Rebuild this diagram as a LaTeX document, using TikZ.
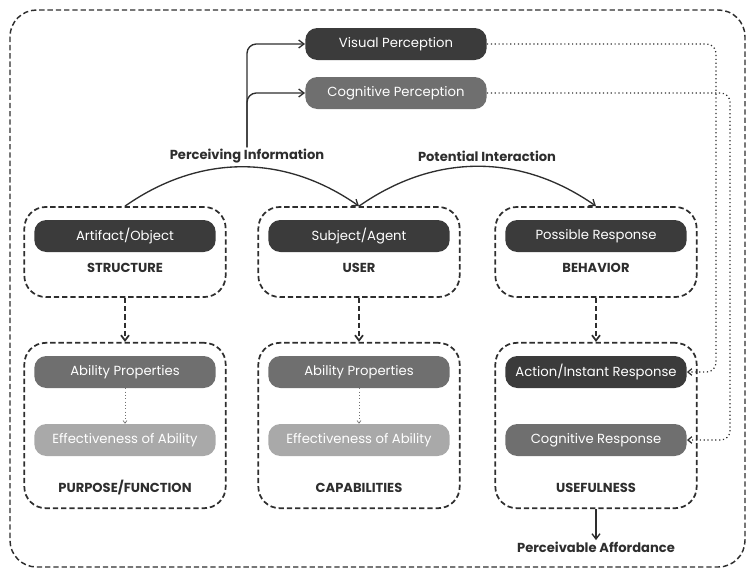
\documentclass[tikz,border=0pt]{standalone}
\usepackage{fontspec}
\setmainfont{Poppins}
\usetikzlibrary{positioning,arrows.meta}

\definecolor{pilldark}{HTML}{3B3B3B}
\definecolor{pillmid}{HTML}{6F6F6F}
\definecolor{pilllight}{HTML}{A9A9A9}
\definecolor{ink}{HTML}{2E2E2E}

\tikzset{
  pill/.style={fill=#1, text=white, rounded corners=9pt, minimum width=136pt,
    minimum height=24pt, inner sep=0pt, font=\fontsize{9.9}{11}\selectfont},
  grp/.style={draw=ink, line width=1.3pt, dash pattern=on 4pt off 2.2pt,
    rounded corners=16pt, minimum width=151pt, inner sep=0pt},
  tag/.style={text=ink, font=\bfseries\fontsize{9.8}{11}\selectfont, inner sep=1pt},
  frame/.style={draw=ink, line width=1.1pt, dash pattern=on 4pt off 2.2pt, rounded corners=20pt},
  flow/.style={draw=ink, line width=1pt, -{Straight Barb[length=4pt,width=6pt]}},
  dashflow/.style={draw=ink, line width=1.3pt, dash pattern=on 4pt off 2.2pt,
    -{Straight Barb[length=4pt,width=6pt]}},
  dotflow/.style={draw=ink, line width=0.9pt, dotted, rounded corners=7pt,
    -{Straight Barb[length=3pt,width=5pt]}},
  thindot/.style={draw=pillmid, line width=0.5pt, dotted, -{Straight Barb[length=2pt,width=3pt]}}
}

\begin{document}
\begin{tikzpicture}[x=0.75pt,y=-0.75pt]
\useasboundingbox (0,0) rectangle (749,571);
\draw[frame] (10,10) rectangle (745,567);

% perception
\node[pill=pilldark] (visual) at (396,44) {Visual Perception};
\node[pill=pillmid] (cogper) at (396,93) {Cognitive Perception};
\node[tag] (percinfo) at (247,156) {Perceiving Information};
\node[tag] (potint) at (487,156) {Potential Interaction};
\draw[flow,rounded corners=7pt] (percinfo.north) |- (visual.west);
\draw[flow,rounded corners=7pt] (percinfo.north) |- (cogper.west);

% top row
\node[grp,minimum height=67.5pt] (structbox) at (125,252) {};
\node[pill=pilldark] (artifact) at (125,236) {Artifact/Object};
\node[tag] (structlbl) at (125,268) {STRUCTURE};

\node[grp,minimum height=67.5pt] (userbox) at (359,252) {};
\node[pill=pilldark] (subject) at (359,236) {Subject/Agent};
\node[tag] (userlbl) at (359,268) {USER};

\node[grp,minimum height=67.5pt] (behavbox) at (596,252) {};
\node[pill=pilldark] (possible) at (596,236) {Possible Response};
\node[tag] (behavlbl) at (596,268) {BEHAVIOR};

\draw[flow] (structbox.north) to[bend left=35] (userbox.north);
\draw[flow] (userbox.north) to[bend left=35] (behavbox.north);

% bottom row
\node[grp,minimum height=124pt] (purpbox) at (125,425.5) {};
\node[pill=pillmid] (abilA) at (125,372) {Ability Properties};
\node[pill=pilllight] (effA) at (125,440) {Effectiveness of Ability};
\node[tag] (purplbl) at (125,488) {PURPOSE/FUNCTION};
\draw[thindot] (abilA) -- (effA);

\node[grp,minimum height=124pt] (capbox) at (359,425.5) {};
\node[pill=pillmid] (abilB) at (359,372) {Ability Properties};
\node[pill=pilllight] (effB) at (359,440) {Effectiveness of Ability};
\node[tag] (caplbl) at (359,488) {CAPABILITIES};
\draw[thindot] (abilB) -- (effB);

\node[grp,minimum height=124pt] (usebox) at (596,425.5) {};
\node[pill=pilldark] (action) at (596,372) {Action/Instant Response};
\node[pill=pillmid] (cogresp) at (596,440) {Cognitive Response};
\node[tag] (uselbl) at (596,488) {USEFULNESS};

\draw[dashflow] (structbox) -- (purpbox);
\draw[dashflow] (userbox) -- (capbox);
\draw[dashflow] (behavbox) -- (usebox);

% affordance
\node[tag] (afford) at (596,547) {Perceivable Affordance};
\draw[flow] (usebox.south) -- (afford.north);

% feedback from perception
\coordinate (vx) at (716,0);
\coordinate (cx) at (730,0);
\draw[dotflow] (visual.east) -- (visual.east -| vx) -- (vx |- action.east) -- (action.east);
\draw[dotflow] (cogper.east) -- (cogper.east -| cx) -- (cx |- cogresp.east) -- (cogresp.east);
\end{tikzpicture}
\end{document}
